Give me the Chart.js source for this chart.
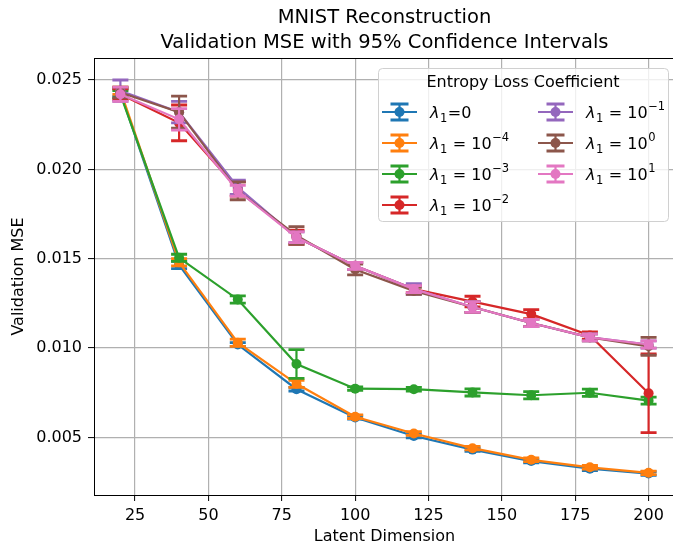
<!DOCTYPE html>
<html>
<head>
<meta charset="utf-8">
<script src="https://cdn.jsdelivr.net/npm/chart.js@4.4.1/dist/chart.umd.min.js"></script>
<style>
  html, body { margin: 0; padding: 0; background: #fff; overflow: hidden; }
  #wrap { width: 673px; height: 546px; overflow: hidden; position: relative; }
</style>
</head>
<body>
<div id="wrap"><canvas id="c" width="680" height="546"></canvas></div>
<script>
// ─── data ─────────────────────────────────────────────────────────────
const dims = [20, 40, 60, 80, 100, 120, 140, 160, 180, 200];
const xTicks = [25, 50, 75, 100, 125, 150, 175, 200];
const yTicks = [0.005, 0.010, 0.015, 0.020, 0.025];

const seriesLabels = ['λ₁=0', 'λ₁ = 10⁻⁴', 'λ₁ = 10⁻³', 'λ₁ = 10⁻²', 'λ₁ = 10⁻¹', 'λ₁ = 10⁰', 'λ₁ = 10¹'];
const legendExp = [null, '−4', '−3', '−2', '−1', '0', '1'];
const colors = ['#1f77b4', '#ff7f0e', '#2ca02c', '#d62728', '#9467bd', '#8c564b', '#e377c2'];

const mseL0   = [0.0243, 0.01465, 0.0102, 0.00770, 0.00612, 0.00508, 0.00432, 0.00368, 0.00325, 0.00298];
const mseL1e4 = [0.0244, 0.0148, 0.0103, 0.00800, 0.00616, 0.00522, 0.00440, 0.00375, 0.00333, 0.00302];
const mseL1e3 = [0.0242, 0.01505, 0.01272, 0.00911, 0.00773, 0.00770, 0.00752, 0.00736, 0.00750, 0.00706];
const mseL1e2 = [0.0242, 0.0226, 0.0189, 0.0162, 0.0146, 0.0133, 0.0126, 0.0119, 0.0107, 0.00747];
const mseL1e1 = [0.0244, 0.0232, 0.0190, 0.0162, 0.0146, 0.0133, 0.0123, 0.0114, 0.0106, 0.0102];
const mseL1e0 = [0.0243, 0.0232, 0.0188, 0.0163, 0.0144, 0.0132, 0.0123, 0.0114, 0.0106, 0.0101];
const mseL1e_1 = [0.0242, 0.0228, 0.0188, 0.0162, 0.0146, 0.0133, 0.0123, 0.0114, 0.0106, 0.0102];

// half widths of the 95% intervals
const ciL0   = [0.0002, 0.0002, 0.0001, 0.0001, 0.0001, 0.0001, 0.0001, 0.0001, 0.0001, 0.0001];
const ciL1e4 = [0.0002, 0.0002, 0.0002, 0.0002, 0.0001, 0.0001, 0.0001, 0.0001, 0.0001, 0.0001];
const ciL1e3 = [0.0002, 0.0002, 0.0002, 0.0008, 0.0001, 0.0001, 0.0002, 0.0002, 0.0002, 0.0002];
const ciL1e2 = [0.0003, 0.0010, 0.0004, 0.0004, 0.0002, 0.0002, 0.0003, 0.00025, 0.0002, 0.0022];
const ciL1e1 = [0.0006, 0.0006, 0.0004, 0.0003, 0.0002, 0.0003, 0.0003, 0.0002, 0.0002, 0.0002];
const ciL1e0 = [0.0003, 0.0009, 0.0005, 0.0005, 0.0003, 0.0002, 0.0003, 0.0002, 0.0002, 0.0005];
const ciL1e_1 = [0.0004, 0.0006, 0.0003, 0.0003, 0.0002, 0.0002, 0.0003, 0.0002, 0.0002, 0.0002];

const seriesVals = [mseL0, mseL1e4, mseL1e3, mseL1e2, mseL1e1, mseL1e0, mseL1e_1];
const seriesErr = [ciL0, ciL1e4, ciL1e3, ciL1e2, ciL1e1, ciL1e0, ciL1e_1];

const FONT = '"DejaVu Sans", sans-serif';

// ─── plugins ──────────────────────────────────────────────────────────
const errorBars = {
  id: 'errorBars',
  beforeDatasetDraw(chart, args) {
    const i = args.index;
    const ys = chart.scales.y;
    const ctx = chart.ctx;
    const a = chart.chartArea;
    ctx.save();
    ctx.beginPath();
    ctx.rect(a.left, a.top, a.right - a.left, a.bottom - a.top);
    ctx.clip();
    ctx.strokeStyle = colors[i];
    args.meta.data.forEach((pt, j) => {
      const v = seriesVals[i][j], e = seriesErr[i][j];
      const yTop = ys.getPixelForValue(v + e), yBot = ys.getPixelForValue(v - e);
      ctx.lineWidth = 2.2;
      ctx.beginPath();
      ctx.moveTo(pt.x, yTop); ctx.lineTo(pt.x, yBot);
      ctx.stroke();
      ctx.lineWidth = 2.8;
      ctx.beginPath();
      ctx.moveTo(pt.x - 8, yTop); ctx.lineTo(pt.x + 8, yTop);
      ctx.moveTo(pt.x - 8, yBot); ctx.lineTo(pt.x + 8, yBot);
      ctx.stroke();
    });
    ctx.restore();
  }
};

const frameAndTitle = {
  id: 'frameAndTitle',
  beforeDatasetsDraw(chart) {
    const {ctx, chartArea: a} = chart;
    ctx.save();
    ctx.strokeStyle = '#000';
    ctx.lineWidth = 1;
    ctx.strokeRect(a.left + 0.5, a.top + 0.5, a.right - a.left, a.bottom - a.top);
    ctx.restore();
  },
  afterDraw(chart) {
    const {ctx, chartArea: a} = chart;
    const cx = (a.left + a.right) / 2;
    ctx.save();
    ctx.fillStyle = '#000';
    ctx.font = '19.5px ' + FONT;
    ctx.textAlign = 'center';
    ctx.textBaseline = 'middle';
    ctx.fillText('MNIST Reconstruction', cx, 18);
    ctx.fillText('Validation MSE with 95% Confidence Intervals', cx, 43);
    ctx.restore();
  }
};

function drawLambda(ctx, x, y, exp) {
  ctx.textAlign = 'left';
  ctx.textBaseline = 'alphabetic';
  const base = y + 6;
  ctx.font = 'italic 16px ' + FONT;
  ctx.fillText('λ', x, base);
  x += ctx.measureText('λ').width;
  ctx.font = '11.5px ' + FONT;
  ctx.fillText('1', x + 0.5, base + 3.5);
  x += ctx.measureText('1').width + 1;
  ctx.font = '16px ' + FONT;
  if (exp === null) {
    ctx.fillText('=0', x, base);
    return;
  }
  ctx.fillText(' = 10', x, base);
  x += ctx.measureText(' = 10').width + 0.5;
  ctx.font = '11.5px ' + FONT;
  ctx.fillText(exp, x, base - 8);
}

const mplLegend = {
  id: 'mplLegend',
  afterDraw(chart) {
    const ctx = chart.ctx;
    const bx = 378, by = 68, bw = 290, bh = 153;
    ctx.save();
    ctx.beginPath();
    ctx.roundRect(bx + 0.5, by + 0.5, bw, bh, 4);
    ctx.fillStyle = 'rgba(255,255,255,0.8)';
    ctx.fill();
    ctx.strokeStyle = '#d0d0d0';
    ctx.lineWidth = 1;
    ctx.stroke();

    ctx.fillStyle = '#000';
    ctx.font = '16px ' + FONT;
    ctx.textAlign = 'center';
    ctx.textBaseline = 'middle';
    ctx.fillText('Entropy Loss Coefficient', 523, 83);

    const rowY = [112, 143, 174, 205];
    seriesLabels.forEach((lab, i) => {
      const col = i < 4 ? 0 : 1;
      const row = i < 4 ? i : i - 4;
      const x0 = col === 0 ? 382 : 538;
      const y = rowY[row];
      const mx = x0 + 17.5;
      ctx.strokeStyle = colors[i];
      ctx.fillStyle = colors[i];
      ctx.lineWidth = 2.2;
      ctx.beginPath();
      ctx.moveTo(x0, y); ctx.lineTo(x0 + 35, y);
      ctx.moveTo(mx, y - 8); ctx.lineTo(mx, y + 8);
      ctx.stroke();
      ctx.lineWidth = 2.8;
      ctx.beginPath();
      ctx.moveTo(mx - 9, y - 8); ctx.lineTo(mx + 9, y - 8);
      ctx.moveTo(mx - 9, y + 8); ctx.lineTo(mx + 9, y + 8);
      ctx.stroke();
      ctx.beginPath();
      ctx.arc(mx, y, 5, 0, Math.PI * 2);
      ctx.fill();
      ctx.fillStyle = '#000';
      drawLambda(ctx, col === 0 ? 430 : 586, y, legendExp[i]);
    });
    ctx.restore();
  }
};

// ─── chart ────────────────────────────────────────────────────────────
Chart.defaults.font.family = FONT;
Chart.defaults.color = '#000';

const datasets = seriesVals.map((vals, i) => ({
  label: seriesLabels[i],
  data: dims.map((d, j) => ({x: d, y: vals[j]})),
  borderColor: colors[i],
  backgroundColor: colors[i],
  borderWidth: 2.2,
  pointRadius: 5,
  pointBorderWidth: 0,
  pointBackgroundColor: colors[i],
  tension: 0,
  order: 6 - i
}));

new Chart(document.getElementById('c').getContext('2d'), {
  type: 'line',
  data: { datasets },
  options: {
    responsive: false,
    animation: false,
    events: [],
    layout: { padding: { top: 58, right: 4, left: 0, bottom: 0 } },
    plugins: { legend: { display: false }, tooltip: { enabled: false } },
    scales: {
      x: {
        type: 'linear', min: 11, max: 209,
        afterBuildTicks: s => { s.ticks = xTicks.map(v => ({value: v})); },
        afterFit: s => { s.height = 51; },
        ticks: { font: { size: 16 }, padding: 5, maxRotation: 0 },
        grid: { color: '#b0b0b0', lineWidth: 1.2, tickColor: '#000', tickLength: 6, tickWidth: 1 },
        border: { color: '#000', width: 1 },
        title: { display: true, text: 'Latent Dimension', font: { size: 16 }, padding: { top: 0, bottom: 0 } }
      },
      y: {
        type: 'linear', min: 0.00178, max: 0.02623,
        afterBuildTicks: s => { s.ticks = yTicks.map(v => ({value: v})); },
        afterFit: s => { s.width = 94; },
        ticks: { font: { size: 16 }, padding: 6, callback: v => v.toFixed(3) },
        grid: { color: '#b0b0b0', lineWidth: 1.2, tickColor: '#000', tickLength: 6, tickWidth: 1 },
        border: { color: '#000', width: 1 },
        title: { display: true, text: 'Validation MSE', font: { size: 16 }, padding: { top: 9, bottom: 0 } }
      }
    }
  },
  plugins: [errorBars, frameAndTitle, mplLegend]
});
</script>
</body>
</html>
